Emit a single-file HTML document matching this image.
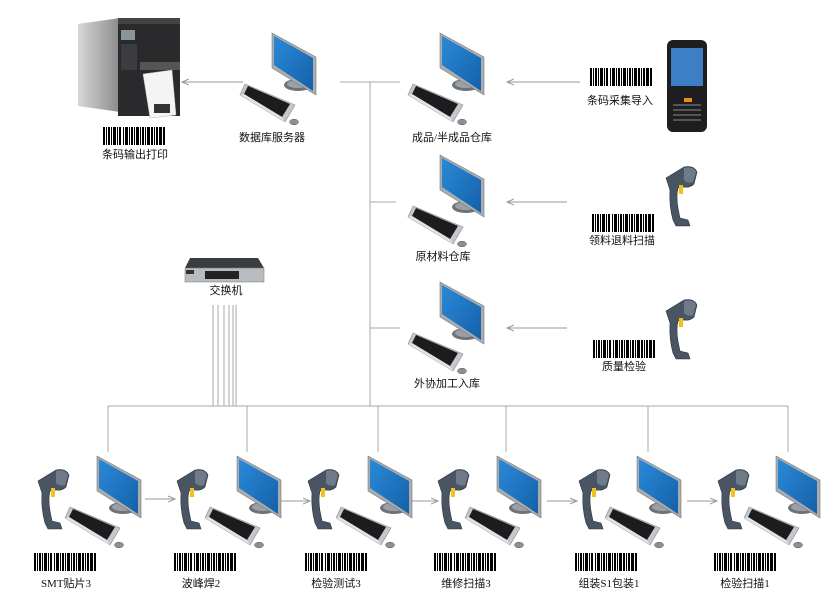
<!DOCTYPE html>
<html><head><meta charset="utf-8"><style>
html,body{margin:0;padding:0;background:#fff}
svg{display:block}
text{font-family:"Liberation Serif","Noto Sans CJK SC",sans-serif;font-size:11px;fill:#111;text-anchor:middle}
</style></head><body>
<svg width="830" height="600" viewBox="0 0 830 600" xmlns="http://www.w3.org/2000/svg">
<defs>
<linearGradient id="scr" x1="0" y1="0" x2="1" y2="1"><stop offset="0" stop-color="#2a8ad8"/><stop offset="1" stop-color="#1560a8"/></linearGradient>
<linearGradient id="sil" x1="0" y1="0" x2="1" y2="0"><stop offset="0" stop-color="#d8d8d8"/><stop offset="1" stop-color="#8a8a8a"/></linearGradient>
<g id="pc">
  <ellipse cx="26" cy="52" rx="14" ry="6" fill="#6c7278"/>
  <ellipse cx="26" cy="51" rx="11" ry="4" fill="#9aa0a6"/>
  <polygon points="0,0 44,24 44,62 0,35" fill="#a9adb1" stroke="#777" stroke-width="0.6"/>
  <polygon points="2,3 41,25 41,58 2,32" fill="url(#scr)"/>
  <polygon points="-27,51 23,72 13,89 -32,62" fill="#c4c8cc" stroke="#888" stroke-width="0.6"/>
  <polygon points="-24,53 18,71 10,84 -28,61" fill="#1c1c1e"/>
  <polygon points="-28,61 10,84 13,89 -32,62" fill="#e0e2e4"/>
  <ellipse cx="22" cy="89" rx="4.5" ry="2.8" fill="#8a9096" stroke="#555" stroke-width="0.5"/>
</g>
<g id="sc">
  <path d="M2,12 L20,1 Q30,-1 33,6 L30,18 Q26,22 20,21 L14,22 Q12,30 14,42 L16,52 L24,54 L26,60 L12,60 L9,54 Q5,40 6,24 Z" fill="#4a5564" stroke="#2c3440" stroke-width="0.6"/>
  <path d="M20,2 Q30,0 32,6 L29,16 Q24,18 20,14 Z" fill="#6f7b88"/>
  <rect x="15" y="19" width="4" height="9" fill="#f2c21a"/>
</g>
<g id="bc">
  <rect x="0" y="0" width="2" height="18"/><rect x="3" y="0" width="1" height="18"/><rect x="5" y="0" width="2" height="18"/><rect x="8" y="0" width="1" height="18"/><rect x="10" y="0" width="3" height="18"/><rect x="14" y="0" width="1" height="18"/><rect x="16" y="0" width="2" height="18"/><rect x="20" y="0" width="1" height="18"/><rect x="22" y="0" width="3" height="18"/><rect x="26" y="0" width="1" height="18"/><rect x="28" y="0" width="2" height="18"/><rect x="31" y="0" width="1" height="18"/><rect x="33" y="0" width="3" height="18"/><rect x="37" y="0" width="1" height="18"/><rect x="39" y="0" width="2" height="18"/><rect x="42" y="0" width="1" height="18"/><rect x="44" y="0" width="3" height="18"/><rect x="48" y="0" width="2" height="18"/><rect x="51" y="0" width="1" height="18"/><rect x="53" y="0" width="2" height="18"/><rect x="56" y="0" width="3" height="18"/><rect x="60" y="0" width="2" height="18"/>
</g>
<marker id="ar" markerWidth="8" markerHeight="8" refX="7" refY="4" orient="auto" markerUnits="userSpaceOnUse"><path d="M0,1 L7,4 L0,7" fill="none" stroke="#999" stroke-width="1"/></marker>
</defs>

<g stroke="#aaa" stroke-width="1" fill="none">
  <line x1="340" y1="82" x2="400" y2="82"/>
  <line x1="370" y1="82" x2="370" y2="406"/>
  <line x1="370" y1="202" x2="396" y2="202"/>
  <line x1="370" y1="328" x2="400" y2="328"/>
  <line x1="108" y1="406" x2="788" y2="406"/>
  <line x1="108" y1="406" x2="108" y2="452"/>
  <line x1="247" y1="406" x2="247" y2="452"/>
  <line x1="378" y1="406" x2="378" y2="452"/>
  <line x1="506" y1="406" x2="506" y2="452"/>
  <line x1="648" y1="406" x2="648" y2="452"/>
  <line x1="788" y1="406" x2="788" y2="452"/>
  <line x1="213" y1="305" x2="213" y2="406"/><line x1="218" y1="305" x2="218" y2="406"/><line x1="224" y1="305" x2="224" y2="406"/><line x1="229" y1="305" x2="229" y2="406"/><line x1="233" y1="305" x2="233" y2="406"/><line x1="236" y1="305" x2="236" y2="406"/>
</g>
<g stroke="#999" stroke-width="1" fill="none" marker-end="url(#ar)">
  <line x1="243" y1="82" x2="182" y2="82"/>
  <line x1="580" y1="82" x2="507" y2="82"/>
  <line x1="567" y1="202" x2="507" y2="202"/>
  <line x1="567" y1="328" x2="507" y2="328"/>
  <line x1="145" y1="499" x2="175" y2="499"/>
  <line x1="280" y1="501" x2="310" y2="501"/>
  <line x1="412" y1="501" x2="438" y2="501"/>
  <line x1="547" y1="501" x2="577" y2="501"/>
  <line x1="687" y1="501" x2="717" y2="501"/>
</g>

<!-- printer -->
<polygon points="78,24 120,18 120,112 78,106" fill="url(#sil)"/>
<rect x="118" y="18" width="62" height="98" fill="#2a2a2c"/>
<rect x="118" y="18" width="62" height="6" fill="#444"/>
<rect x="121" y="30" width="14" height="10" fill="#8a949a"/>
<rect x="121" y="44" width="16" height="26" fill="#3c3c40"/>
<rect x="140" y="62" width="40" height="8" fill="#555"/>
<polygon points="143,74 172,70 176,115 150,118" fill="#f4f4f4" stroke="#bbb" stroke-width="0.5"/>
<rect x="154" y="104" width="16" height="9" fill="#333"/>
<use href="#bc" x="103" y="127" transform="translate(0,0)"/>
<text x="135" y="158">条码输出打印</text>

<!-- switch -->
<polygon points="190,258 258,258 264,268 185,268" fill="#3a3d40"/>
<rect x="185" y="268" width="79" height="14" fill="#b8bcc0" stroke="#777" stroke-width="0.5"/>
<rect x="205" y="271" width="34" height="8" fill="#222"/>
<rect x="186" y="270" width="8" height="4" fill="#333"/>
<text x="226" y="294">交换机</text>

<!-- top computers -->
<use href="#pc" x="272" y="33"/>
<text x="272" y="141">数据库服务器</text>
<use href="#pc" x="440" y="33"/>
<text x="452" y="141">成品/半成品仓库</text>
<use href="#pc" x="440" y="155"/>
<text x="443" y="260">原材料仓库</text>
<use href="#pc" x="440" y="282"/>
<text x="447" y="387">外协加工入库</text>

<!-- right side -->
<use href="#bc" x="590" y="68"/>
<text x="620" y="104">条码采集导入</text>
<rect x="667" y="40" width="40" height="92" rx="6" fill="#1e1e20"/>
<rect x="671" y="48" width="32" height="38" fill="#3d7fc4"/>
<rect x="684" y="98" width="8" height="4" fill="#f08a1a"/>
<g fill="#555"><rect x="673" y="104" width="28" height="2"/><rect x="673" y="109" width="28" height="2"/><rect x="673" y="114" width="28" height="2"/><rect x="673" y="119" width="28" height="2"/></g>
<use href="#sc" x="664" y="166"/>
<use href="#bc" x="592" y="214"/>
<text x="622" y="244">领料退料扫描</text>
<use href="#sc" x="664" y="299"/>
<use href="#bc" x="593" y="340"/>
<text x="624" y="370">质量检验</text>

<!-- bottom -->
<use href="#pc" x="97" y="456"/><use href="#sc" x="36" y="469"/><use href="#bc" x="34" y="553"/>
<text x="66" y="587">SMT贴片3</text>
<use href="#pc" x="237" y="456"/><use href="#sc" x="175" y="469"/><use href="#bc" x="174" y="553"/>
<text x="201" y="587">波峰焊2</text>
<use href="#pc" x="368" y="456"/><use href="#sc" x="306" y="469"/><use href="#bc" x="305" y="553"/>
<text x="336" y="587">检验测试3</text>
<use href="#pc" x="497" y="456"/><use href="#sc" x="436" y="469"/><use href="#bc" x="434" y="553"/>
<text x="466" y="587">维修扫描3</text>
<use href="#pc" x="637" y="456"/><use href="#sc" x="577" y="469"/><use href="#bc" x="575" y="553"/>
<text x="609" y="587">组装S1包装1</text>
<use href="#pc" x="776" y="456"/><use href="#sc" x="716" y="469"/><use href="#bc" x="714" y="553"/>
<text x="745" y="587">检验扫描1</text>
</svg>
</body></html>
